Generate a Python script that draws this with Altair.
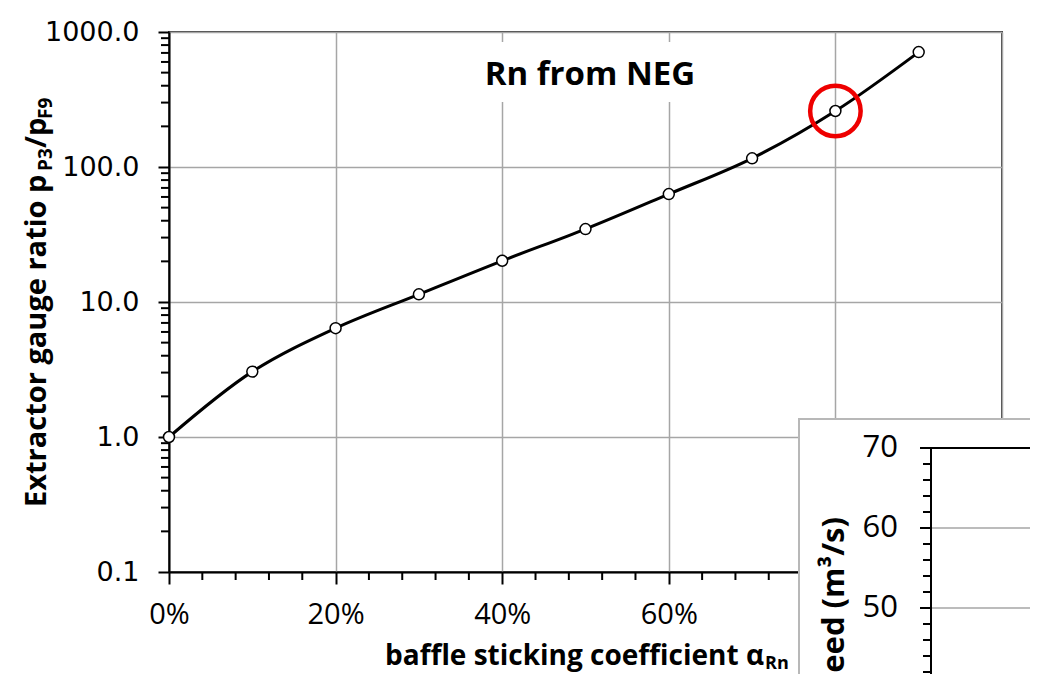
import altair as alt
import pandas as pd

# ---------------- data ----------------
coef = [0.0, 0.1, 0.2, 0.3, 0.4, 0.5, 0.6, 0.7, 0.8, 0.9]
ratio = [1.0, 3.05, 6.4, 11.4, 20.2, 34.7, 63.0, 116.0, 260.0, 710.0]
marked_coef = [0.8]
marked_ratio = [260.0]

x_major = [0.0, 0.2, 0.4, 0.6, 0.8, 1.0]
x_minor = [0.04, 0.08, 0.12, 0.16, 0.24, 0.28, 0.32, 0.36, 0.44, 0.48,
           0.52, 0.56, 0.64, 0.68, 0.72, 0.76, 0.84, 0.88, 0.92, 0.96]
y_major = [0.1, 1.0, 10.0, 100.0, 1000.0]
y_minor = [0.2, 0.3, 0.4, 0.5, 0.6, 0.7, 0.8, 0.9,
           2, 3, 4, 5, 6, 7, 8, 9,
           20, 30, 40, 50, 60, 70, 80, 90,
           200, 300, 400, 500, 600, 700, 800, 900]

inset_major = [40, 50, 60, 70]
inset_labels = [50, 60, 70]
inset_minor = [42, 44, 46, 48, 52, 54, 56, 58, 62, 64, 66, 68]
inset_grid = [40, 50, 60]
inset_top = [70]

chart_title = "Rn from NEG"
ytitle_parts = ["Extractor gauge ratio p", "P3", "/p", "F9"]
xtitle_parts = ["baffle sticking coefficient \u03b1", "Rn"]
inset_title = "Pumping speed (m\u00b3/s)"

# ---------------- scales / axes ----------------
xs = alt.Scale(domain=[0, 1], nice=False, zero=False)
ys = alt.Scale(type="log", domain=[0.1, 1000], nice=False)
inset_scale = alt.Scale(domain=[40, 70], range=[656, 416], nice=False, zero=False)

ax_x = alt.Axis(values=x_major, title=None, grid=True,
                labelExpr="datum.value > 0.7 ? '' : format(datum.value, '.0%')",
                gridColor="#a6a6a6", gridWidth=1.5, domainColor="black",
                domainWidth=2, tickColor="black", tickWidth=2, tickSize=12,
                labelFont="Open Sans", labelFontSize=29, labelColor="black",
                labelPadding=16, labelFlush=False)
ax_y = alt.Axis(values=y_major, format=".1f", title=None, grid=True,
                gridColor="#a6a6a6", gridWidth=1.5, domainColor="black",
                domainWidth=2, tickColor="black", tickWidth=2, tickSize=11,
                labelFont="DejaVu Sans", labelFontSize=27, labelColor="black",
                labelPadding=19, labelFlush=False)

X = alt.X("coef:Q", scale=xs, axis=ax_x)
Y = alt.Y("ratio:Q", scale=ys, axis=ax_y)

df = pd.DataFrame({"coef": coef, "ratio": ratio})
df_mark = pd.DataFrame({"coef": marked_coef, "ratio": marked_ratio})
df_xminor = pd.DataFrame({"coef": x_minor})
df_yminor = pd.DataFrame({"ratio": y_minor})


def one(txt):
    return pd.DataFrame({"t": [txt]})


def text_layer(txt, x, y, size, angle=0, align="left", baseline="alphabetic",
               dx=0, dy=0, weight="bold", font="Open Sans"):
    return alt.Chart(one(txt)).mark_text(
        font=font, fontSize=size, fontWeight=weight, angle=angle, align=align,
        baseline=baseline, dx=dx, dy=dy, color="black"
    ).encode(text="t:N", x=alt.value(x), y=alt.value(y))


# ---------------- main chart ----------------
line = alt.Chart(df).mark_line(color="black", strokeWidth=3,
                               interpolate="catmull-rom").encode(x=X, y=Y)
pts = alt.Chart(df).mark_point(shape="circle", filled=True, fill="white",
                               stroke="black", strokeWidth=1.5, size=120,
                               opacity=1).encode(x=X, y=Y)
ring = alt.Chart(df_mark).mark_point(shape="circle", filled=False, color="#ee0000",
                                     strokeWidth=4.5, size=2550,
                                     opacity=1).encode(x=X, y=Y)
xminor = alt.Chart(df_xminor).mark_rule(color="black", strokeWidth=2).encode(
    x=X, y=alt.value(540), y2=alt.value(548))
yminor = alt.Chart(df_yminor).mark_rule(color="black", strokeWidth=2).encode(
    y=Y, x=alt.value(-8), x2=alt.value(0))

title_box = alt.Chart(one(chart_title)).mark_rect(fill="white").encode(
    x=alt.value(290), x2=alt.value(548), y=alt.value(10), y2=alt.value(70))
title_txt = text_layer(chart_title, 421, 53, 33, align="center")

yt = [
    text_layer(ytitle_parts[0], -123, 475, 29, angle=270),
    text_layer(ytitle_parts[1], -123, 475, 19, angle=270, dx=336, dy=6),
    text_layer(ytitle_parts[2], -123, 475, 29, angle=270, dx=359),
    text_layer(ytitle_parts[3], -123, 475, 19, angle=270, dx=388, dy=6),
]
xt = [
    text_layer(xtitle_parts[0], 216, 633, 28),
    text_layer(xtitle_parts[1], 216, 633, 18, dx=380, dy=4),
]

main = alt.layer(line, xminor, yminor, title_box, title_txt, pts, ring, *yt, *xt)

# ---------------- inset (second chart peeking in) ----------------
IY = alt.Y("speed:Q", scale=inset_scale, axis=None)
inset_box = alt.Chart(one("inset")).mark_rect(fill="white", stroke="#b8b8b8",
                                               strokeWidth=2).encode(
    x=alt.value(630), x2=alt.value(1000), y=alt.value(387), y2=alt.value(800))
igrid = alt.Chart(pd.DataFrame({"speed": inset_grid})).mark_rule(
    color="#a6a6a6", strokeWidth=1.5).encode(y=IY, x=alt.value(762), x2=alt.value(900))
itop = alt.Chart(pd.DataFrame({"speed": inset_top})).mark_rule(
    color="black", strokeWidth=2).encode(y=IY, x=alt.value(762), x2=alt.value(900))
idomain = alt.Chart(one("axis")).mark_rule(color="black", strokeWidth=2).encode(
    x=alt.value(762), y=alt.value(415), y2=alt.value(800))
imajor = alt.Chart(pd.DataFrame({"speed": inset_major})).mark_rule(
    color="black", strokeWidth=2).encode(y=IY, x=alt.value(751), x2=alt.value(762))
iminor = alt.Chart(pd.DataFrame({"speed": inset_minor})).mark_rule(
    color="black", strokeWidth=2).encode(y=IY, x=alt.value(754), x2=alt.value(762))
ilabels = alt.Chart(pd.DataFrame({"speed": inset_labels,
                                  "label": [str(v) for v in inset_labels]})).mark_text(
    font="Open Sans", fontSize=31, align="right", baseline="middle", color="black"
).encode(y=IY, text="label:N", x=alt.value(729))
ititle = text_layer(inset_title, 675, 485, 31, angle=270, align="right")

inset = alt.layer(inset_box, igrid, itop, idomain, imajor, iminor, ilabels, ititle)

chart = alt.layer(main, inset).resolve_scale(y="independent").properties(
    width=833, height=540,
    autosize=alt.AutoSizeParams(type="none"),
    padding={"left": 161, "top": 24, "right": 28, "bottom": 102},
    background="white",
).configure_view(stroke="#404040", strokeWidth=2)

chart.save("out.html", embed_options={"renderer": "svg", "actions": False})
